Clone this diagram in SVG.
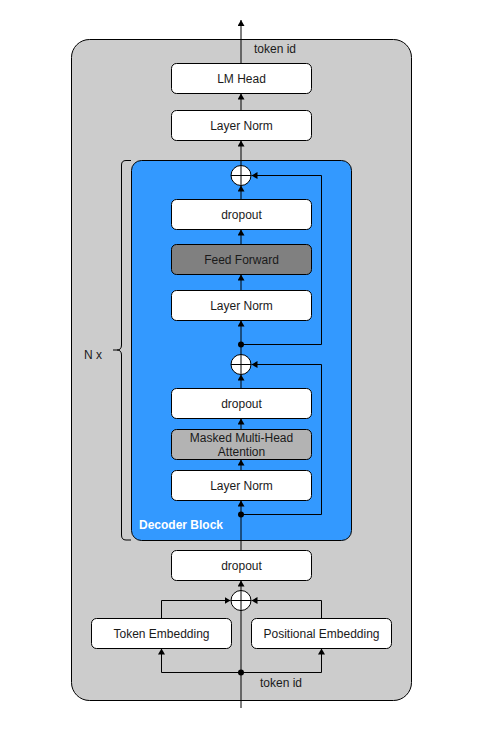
<svg xmlns="http://www.w3.org/2000/svg" width="485" height="730" viewBox="0 0 485 730">
<style>
.box{fill:#ffffff;stroke:#000000;stroke-width:1}
.t{font-family:"Liberation Sans",Arial,sans-serif;font-size:12px;fill:#1a1a1a;text-anchor:middle;dominant-baseline:central}
.ln{fill:none;stroke:#000000;stroke-width:1}
.plus{fill:#ffffff;stroke:#000000;stroke-width:1}
.dot{fill:#000000}
</style>
<defs>
<marker id="arr" viewBox="0 0 10 10" refX="10" refY="5" markerWidth="6" markerHeight="7" orient="auto" markerUnits="userSpaceOnUse" preserveAspectRatio="none">
<path d="M0,0 L10,5 L0,10 z" fill="#000000"/>
</marker>
</defs>
<g id="container">
<rect x="71.5" y="39.5" width="340" height="661" rx="18" ry="18" fill="#cccccc" stroke="#000000"/>
</g>
<g id="decoder-block">
<rect x="131.5" y="160.5" width="220" height="380" rx="10" ry="10" fill="#3399ff" stroke="#000000"/>
<text x="139" y="525" style="font-family:'Liberation Sans',Arial,sans-serif;font-size:12px;font-weight:bold;fill:#ffffff;dominant-baseline:central">Decoder Block</text>
</g>
<g id="brace">
<path class="ln" d="M131,160.5 H126 Q121.5,160.5 121.5,165 V345 Q121.5,350 117,350 H113 M117,350 Q121.5,350 121.5,355 V535 Q121.5,540 126,540 H131"/>
<text class="t" x="93" y="355">N x</text>
</g>
<g id="connectors">
<line class="ln" x1="241" y1="63" x2="241" y2="20" marker-end="url(#arr)"/>
<line class="ln" x1="241" y1="110" x2="241" y2="93.5" marker-end="url(#arr)"/>
<line class="ln" x1="241" y1="165" x2="241" y2="140.5" marker-end="url(#arr)"/>
<line class="ln" x1="241" y1="199" x2="241" y2="185.5" marker-end="url(#arr)"/>
<line class="ln" x1="241" y1="244" x2="241" y2="229.5" marker-end="url(#arr)"/>
<line class="ln" x1="241" y1="290" x2="241" y2="274.5" marker-end="url(#arr)"/>
<line class="ln" x1="241" y1="354" x2="241" y2="320.5" marker-end="url(#arr)"/>
<polyline class="ln" points="241,344.5 321.5,344.5 321.5,175.5 251.5,175.5" marker-end="url(#arr)"/>
<line class="ln" x1="241" y1="388" x2="241" y2="374.5" marker-end="url(#arr)"/>
<line class="ln" x1="241" y1="429" x2="241" y2="418.5" marker-end="url(#arr)"/>
<line class="ln" x1="241" y1="470" x2="241" y2="459.5" marker-end="url(#arr)"/>
<line class="ln" x1="241" y1="550" x2="241" y2="500.5" marker-end="url(#arr)"/>
<polyline class="ln" points="241,514.5 321.5,514.5 321.5,364.5 251.5,364.5" marker-end="url(#arr)"/>
<line class="ln" x1="241" y1="708" x2="241" y2="580.5" marker-end="url(#arr)"/>
<polyline class="ln" points="161.5,618 161.5,600.5 230.5,600.5" marker-end="url(#arr)"/>
<polyline class="ln" points="321.5,618 321.5,600.5 251.5,600.5" marker-end="url(#arr)"/>
<polyline class="ln" points="241,672.5 161.5,672.5 161.5,648.5" marker-end="url(#arr)"/>
<polyline class="ln" points="241,672.5 321.5,672.5 321.5,648.5" marker-end="url(#arr)"/>
<circle class="dot" cx="241" cy="344.5" r="3"/>
<circle class="dot" cx="241" cy="514.5" r="3"/>
<circle class="dot" cx="241" cy="672.5" r="3"/>
<text class="t" x="275" y="49">token id</text>
<text class="t" x="281" y="683">token id</text>
</g>
<g id="lm-head">
<rect class="box" x="171.5" y="63.5" width="140" height="30" rx="5" ry="5"/>
<text class="t" x="241.5" y="78.5">LM Head</text>
</g>
<g id="layer-norm-final">
<rect class="box" x="171.5" y="110.5" width="140" height="30" rx="5" ry="5"/>
<text class="t" x="241.5" y="125.5">Layer Norm</text>
</g>
<g id="add-2">
<circle class="plus" cx="241" cy="175.5" r="10"/>
<path class="ln" d="M231,175.5 H251 M241,165.5 V185.5"/>
</g>
<g id="dropout-2">
<rect class="box" x="171.5" y="199.5" width="140" height="30" rx="5" ry="5"/>
<text class="t" x="241.5" y="214.5">dropout</text>
</g>
<g id="feed-forward">
<rect x="171.5" y="244.5" width="140" height="30" rx="5" ry="5" fill="#808080" stroke="#000000"/>
<text class="t" x="241.5" y="259.5">Feed Forward</text>
</g>
<g id="layer-norm-2">
<rect class="box" x="171.5" y="290.5" width="140" height="30" rx="5" ry="5"/>
<text class="t" x="241.5" y="305.5">Layer Norm</text>
</g>
<g id="add-1">
<circle class="plus" cx="241" cy="364.5" r="10"/>
<path class="ln" d="M231,364.5 H251 M241,354.5 V374.5"/>
</g>
<g id="dropout-1">
<rect class="box" x="171.5" y="388.5" width="140" height="30" rx="5" ry="5"/>
<text class="t" x="241.5" y="403.5">dropout</text>
</g>
<g id="masked-attention">
<rect x="171.5" y="429.5" width="140" height="30" rx="5" ry="5" fill="#b3b3b3" stroke="#000000"/>
<text class="t" x="241.5" y="437.5">Masked Multi-Head</text>
<text class="t" x="241.5" y="451.5">Attention</text>
</g>
<g id="layer-norm-1">
<rect class="box" x="171.5" y="470.5" width="140" height="30" rx="5" ry="5"/>
<text class="t" x="241.5" y="485.5">Layer Norm</text>
</g>
<g id="dropout-0">
<rect class="box" x="171.5" y="550.5" width="140" height="30" rx="5" ry="5"/>
<text class="t" x="241.5" y="565.5">dropout</text>
</g>
<g id="add-0">
<circle class="plus" cx="241" cy="600.5" r="10"/>
<path class="ln" d="M231,600.5 H251 M241,590.5 V610.5"/>
</g>
<g id="token-embedding">
<rect class="box" x="91.5" y="618.5" width="140" height="30" rx="5" ry="5"/>
<text class="t" x="161.5" y="633.5">Token Embedding</text>
</g>
<g id="positional-embedding">
<rect class="box" x="251.5" y="618.5" width="140" height="30" rx="5" ry="5"/>
<text class="t" x="321.5" y="633.5">Positional Embedding</text>
</g>
</svg>
